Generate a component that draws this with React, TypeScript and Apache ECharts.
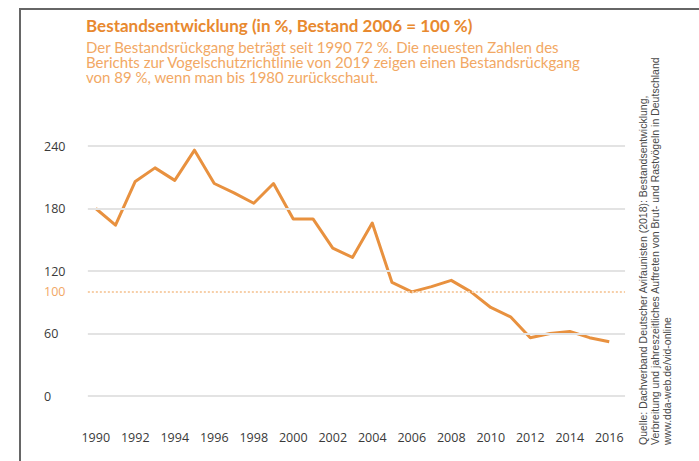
import React, { useEffect, useRef } from "react";
import * as echarts from "echarts";

const years: number[] = [
  1990, 1991, 1992, 1993, 1994, 1995, 1996, 1997, 1998, 1999, 2000, 2001, 2002,
  2003, 2004, 2005, 2006, 2007, 2008, 2009, 2010, 2011, 2012, 2013, 2014, 2015, 2016,
];
const bestand: number[] = [
  180, 164, 206, 219, 207, 236, 204, 195, 185, 204, 170, 170, 142,
  133, 166, 109, 100, 105, 111, 100, 85, 76, 56, 60, 62, 56, 52,
];
const yTicks: number[] = [0, 60, 120, 180, 240];
const refValue = 100;

const titleText = "Bestandsentwicklung (in %, Bestand 2006 = 100 %)";
const subtitleLines: string[] = [
  "Der Bestandsrückgang beträgt seit 1990 72 %. Die neuesten Zahlen des",
  "Berichts zur Vogelschutzrichtlinie von 2019 zeigen einen Bestandsrückgang",
  "von 89 %, wenn man bis 1980 zurückschaut.",
];
const sourceLines: string[] = [
  "Quelle: Dachverband Deutscher Avifaunisten (2018): Bestandsentwicklung,",
  "Verbreitung und jahreszeitliches Auftreten von Brut- und Rastvögeln in Deutschland",
  "www.dda-web.de/vid-online",
];

const ORANGE = "#E8913F";
const FONT = "'Open Sans', 'DejaVu Sans', sans-serif";
const TFONT = "Lato, 'Open Sans', sans-serif";

export default function App() {
  const ref = useRef<HTMLDivElement>(null);
  useEffect(() => {
    if (!ref.current) return;
    const chart = echarts.init(ref.current, undefined, { renderer: "svg" });
    const gridStart = 1989.6;
    const gridEnd = 2016.8;
    const gridLines = yTicks.map((v) => [
      { coord: [gridStart, v] },
      { coord: [gridEnd, v] },
    ]);
    chart.setOption({
      animation: false,
      backgroundColor: "#ffffff",
      grid: { left: 76, right: 70, top: 146, bottom: 65 },
      xAxis: {
        type: "value",
        min: 1989,
        max: 2017,
        interval: 1,
        axisLine: { show: false },
        axisTick: { show: false },
        splitLine: { show: false },
        axisLabel: {
          margin: 35,
          color: "#3a3a3a",
          fontSize: 12.5,
          fontFamily: FONT,
          formatter: (v: number) =>
            v >= years[0] && v <= years[years.length - 1] && v % 2 === 0 ? String(v) : "",
        },
      },
      yAxis: {
        type: "value",
        min: 0,
        max: 240,
        interval: 20,
        axisLine: { show: false },
        axisTick: { show: false },
        splitLine: { show: false },
        axisLabel: {
          align: "left",
          margin: 32,
          formatter: (v: number) =>
            yTicks.includes(v) ? "{a|" + v + "}" : v === refValue ? "{b|" + v + "}" : "",
          rich: {
            a: { color: "#3a3a3a", fontSize: 12.5, fontFamily: FONT },
            b: { color: "#F2A865", fontSize: 12.5, fontFamily: FONT },
          },
        },
      },
      graphic: [
        { type: "line", shape: { x1: 20, y1: 9, x2: 20, y2: 461 }, style: { stroke: "#666", lineWidth: 2 } },
        { type: "line", shape: { x1: 19, y1: 9, x2: 699, y2: 9 }, style: { stroke: "#666", lineWidth: 2 } },
        {
          type: "text",
          x: 86,
          y: 25,
          style: {
            text: titleText,
            fill: "#E8892F",
            font: "bold 17px " + TFONT,
            verticalAlign: "middle",
          },
        },
        {
          type: "text",
          x: 86,
          y: 39.5,
          style: {
            text: subtitleLines.join("\n"),
            fill: "#F2A864",
            font: "15px " + TFONT,
            lineHeight: 15,
            verticalAlign: "top",
          },
        },
        ...sourceLines.map((t, i) => ({
          type: "text",
          x: 643 + i * 12,
          y: 445,
          rotation: Math.PI / 2,
          style: {
            text: t,
            fill: "#4a4a4a",
            font: "10.5px 'Liberation Sans', sans-serif",
            lineHeight: 12,
            verticalAlign: "middle",
            align: "left",
          },
        })),
      ],
      series: [
        {
          type: "line",
          z: 1,
          data: [],
          silent: true,
          markLine: {
            silent: true,
            symbol: "none",
            label: { show: false },
            lineStyle: { color: "#e3e3e3", width: 2, type: "solid" },
            data: [
              ...gridLines,
              [
                { coord: [gridStart, refValue], lineStyle: { color: "#F7CFA8", type: "dotted", width: 2 } },
                { coord: [gridEnd, refValue] },
              ],
            ],
          },
        },
        {
          type: "line",
          z: 3,
          data: years.map((y, i) => [y, bestand[i]]),
          showSymbol: false,
          lineStyle: { color: ORANGE, width: 3, join: "round" },
          itemStyle: { color: ORANGE },
        },
      ],
    });
    return () => chart.dispose();
  }, []);
  return (
    <div
      ref={ref}
      style={{ position: "fixed", left: 0, top: 0, width: 699, height: 461 }}
    />
  );
}
